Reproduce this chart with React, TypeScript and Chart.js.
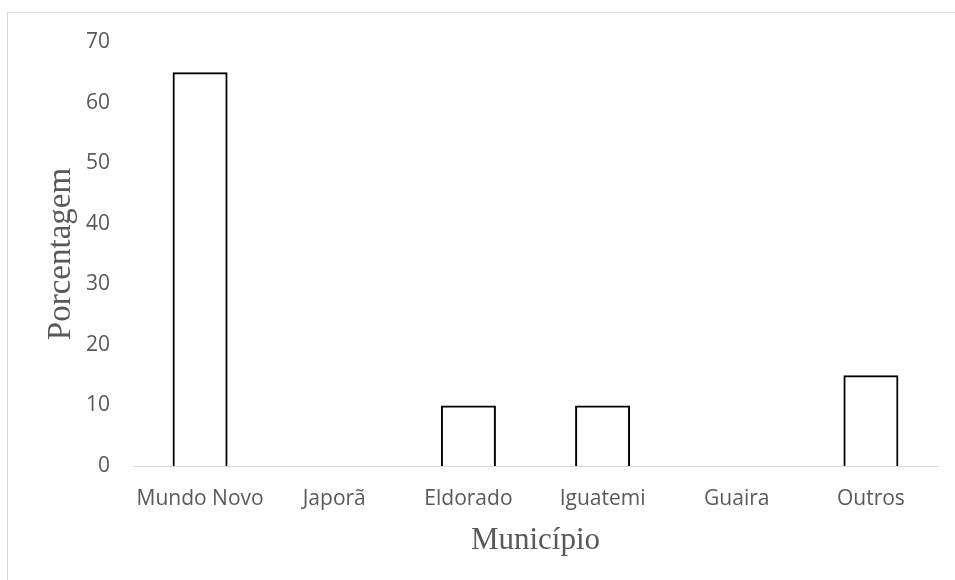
import React, { useEffect, useRef } from "react";
import { Chart, registerables } from "chart.js";

Chart.register(...registerables);

// Share of respondents by municipality (%)
const municipios = ["Mundo Novo", "Japorã", "Eldorado", "Iguatemi", "Guaira", "Outros"];
const porcentagens = [65, 0, 10, 10, 0, 15];
const yMin = 0;
const yMax = 70;
const yStep = 10;

const axisTitleX = "Município";
const axisTitleY = "Porcentagem";

const TEXT = "#595959";
const LINE = "#d9d9d9";
const SANS = "'Open Sans', 'Noto Sans', sans-serif";
const SERIF = "'Liberation Serif', 'Times New Roman', serif";

export default function App() {
  const canvasRef = useRef<HTMLCanvasElement | null>(null);

  useEffect(() => {
    const canvas = canvasRef.current;
    if (!canvas) return;
    const chart = new Chart(canvas, {
      type: "bar",
      data: {
        labels: municipios,
        datasets: [
          {
            data: porcentagens,
            backgroundColor: "rgba(0,0,0,0)",
            borderColor: "#000000",
            borderWidth: 2,
            barPercentage: 0.41,
            categoryPercentage: 1,
          },
        ],
      },
      options: {
        responsive: false,
        animation: false,
        layout: { padding: { left: 0, right: 17, top: 42, bottom: 0 } },
        plugins: {
          legend: { display: false },
          tooltip: { enabled: false },
        },
        scales: {
          x: {
            grid: { display: false, drawTicks: false },
            border: { display: true, color: LINE, width: 1 },
            ticks: {
              color: TEXT,
              font: { family: SANS, size: 21 },
              padding: 20,
              maxRotation: 0,
              autoSkip: false,
            },
            title: {
              display: true,
              text: axisTitleX,
              color: TEXT,
              font: { family: SERIF, size: 31, weight: "normal" },
              padding: { top: 0, bottom: 21 },
            },
            afterFit: (scale: any) => {
              scale.height = 114;
            },
          },
          y: {
            min: yMin,
            max: yMax,
            grid: { display: false, drawTicks: false },
            border: { display: false },
            ticks: {
              stepSize: yStep,
              color: TEXT,
              font: { family: SANS, size: 21 },
              padding: 23,
            },
            title: {
              display: true,
              text: axisTitleY,
              color: TEXT,
              font: { family: SERIF, size: 33, weight: "normal" },
              padding: { top: 42, bottom: 0 },
            },
            afterFit: (scale: any) => {
              scale.width = 133;
            },
          },
        },
      },
    });
    return () => chart.destroy();
  }, []);

  return (
    <div
      style={{
        position: "fixed",
        left: 0,
        top: 0,
        width: 955,
        height: 580,
        overflow: "hidden",
        background: "#ffffff",
      }}
    >
      <div
        style={{
          position: "absolute",
          left: 7,
          top: 12,
          width: 1200,
          height: 900,
          border: `1px solid ${LINE}`,
          boxSizing: "border-box",
        }}
      />
      <canvas
        ref={canvasRef}
        width={955}
        height={580}
        style={{ position: "absolute", left: 0, top: 0, width: 955, height: 580 }}
      />
    </div>
  );
}
